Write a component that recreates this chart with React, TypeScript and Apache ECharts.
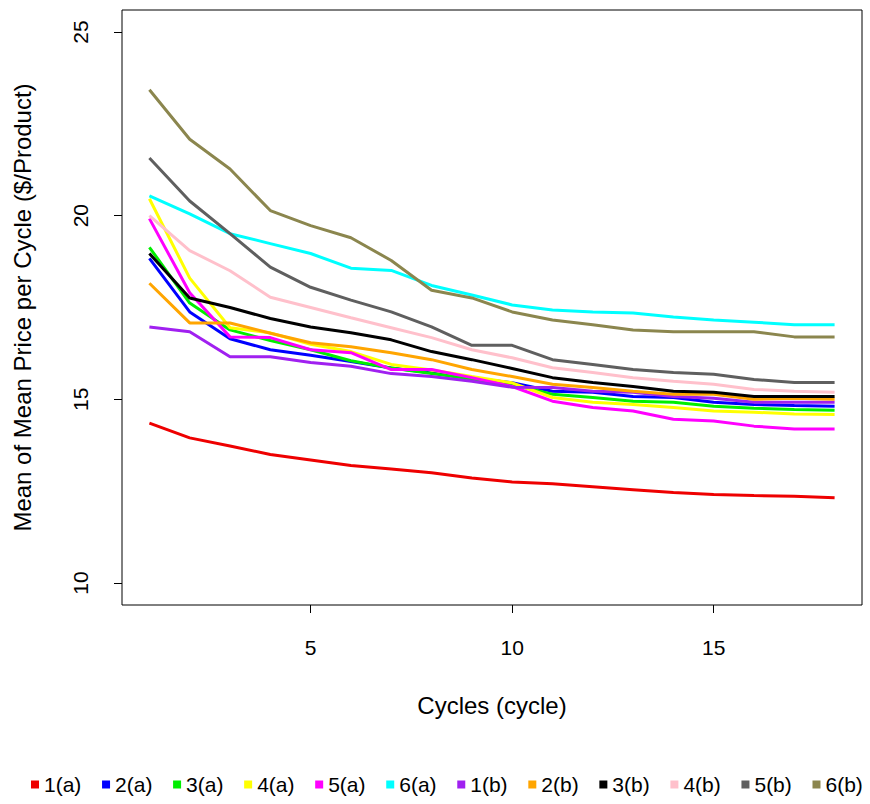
import React, { useEffect, useRef } from "react";
import * as echarts from "echarts";

const cycles = [1, 2, 3, 4, 5, 6, 7, 8, 9, 10, 11, 12, 13, 14, 15, 16, 17, 18];

const s1a = [14.35, 13.95, 13.73, 13.5, 13.35, 13.2, 13.1, 13.0, 12.86, 12.75, 12.7, 12.62, 12.54, 12.46, 12.41, 12.38, 12.36, 12.32];
const s2a = [18.84, 17.38, 16.65, 16.35, 16.2, 16.03, 15.85, 15.72, 15.58, 15.45, 15.22, 15.19, 15.08, 15.05, 14.92, 14.86, 14.83, 14.81];
const s3a = [19.14, 17.62, 16.89, 16.6, 16.35, 16.05, 15.85, 15.7, 15.55, 15.4, 15.14, 15.05, 14.95, 14.92, 14.81, 14.76, 14.72, 14.7];
const s4a = [20.46, 18.3, 16.95, 16.81, 16.5, 16.3, 15.95, 15.8, 15.62, 15.45, 15.05, 14.92, 14.86, 14.78, 14.68, 14.65, 14.6, 14.59];
const s5a = [19.92, 17.9, 16.7, 16.68, 16.35, 16.27, 15.81, 15.81, 15.59, 15.35, 14.95, 14.78, 14.68, 14.46, 14.41, 14.27, 14.19, 14.19];
const s6a = [20.54, 20.05, 19.51, 19.24, 18.97, 18.57, 18.51, 18.1, 17.84, 17.57, 17.43, 17.38, 17.35, 17.24, 17.16, 17.1, 17.03, 17.03];
const s1b = [16.97, 16.84, 16.16, 16.16, 16.0, 15.9, 15.7, 15.62, 15.49, 15.33, 15.32, 15.22, 15.19, 15.08, 15.03, 14.92, 14.92, 14.92];
const s2b = [18.16, 17.08, 17.08, 16.8, 16.54, 16.43, 16.27, 16.08, 15.81, 15.62, 15.41, 15.32, 15.22, 15.14, 15.14, 15.0, 15.03, 15.0];
const s3b = [18.97, 17.76, 17.5, 17.2, 16.97, 16.81, 16.62, 16.3, 16.08, 15.84, 15.59, 15.46, 15.35, 15.22, 15.19, 15.08, 15.08, 15.08];
const s4b = [20.0, 19.05, 18.5, 17.78, 17.5, 17.22, 16.95, 16.68, 16.35, 16.13, 15.86, 15.73, 15.59, 15.49, 15.41, 15.27, 15.22, 15.19];
const s5b = [21.57, 20.4, 19.51, 18.6, 18.05, 17.7, 17.38, 16.97, 16.47, 16.47, 16.08, 15.95, 15.81, 15.73, 15.68, 15.54, 15.46, 15.46];
const s6b = [23.43, 22.08, 21.27, 20.14, 19.73, 19.4, 18.78, 17.97, 17.76, 17.38, 17.16, 17.03, 16.89, 16.84, 16.84, 16.84, 16.7, 16.7];

const seriesNames = ["1(a)", "2(a)", "3(a)", "4(a)", "5(a)", "6(a)", "1(b)", "2(b)", "3(b)", "4(b)", "5(b)", "6(b)"];
const seriesValues = [s1a, s2a, s3a, s4a, s5a, s6a, s1b, s2b, s3b, s4b, s5b, s6b];
const seriesColors = ["#EE0000", "#0000FF", "#00EE00", "#FFFF00", "#FF00FF", "#00FFFF", "#A020F0", "#FFA500", "#000000", "#FFC0CB", "#5F5F5F", "#8B864E"];

const xTicks = [5, 10, 15];
const yTicks = [10, 15, 20, 25];

const FONT = "'Liberation Sans', Arial, sans-serif";
const FS = 21;
const FS_TITLE = 24;

export default function App() {
  const ref = useRef<HTMLDivElement>(null);
  useEffect(() => {
    if (!ref.current) return;
    const chart = echarts.init(ref.current, null, { renderer: "svg" });
    chart.setOption({
      animation: false,
      backgroundColor: "#fff",
      textStyle: { fontFamily: FONT },
      grid: {
        left: 122,
        top: 10,
        width: 740,
        height: 595,
        show: true,
        borderColor: "#000",
        borderWidth: 1,
        backgroundColor: "transparent",
      },
      legend: {
        data: seriesNames,
        left: 31,
        top: 774,
        padding: 0,
        icon: "rect",
        itemWidth: 8,
        itemHeight: 8,
        itemGap: 20.7,
        textStyle: { fontSize: FS, color: "#000", fontFamily: FONT, padding: [7, 0, 0, 0] },
      },
      xAxis: {
        type: "value",
        min: 0.32,
        max: 18.68,
        name: "Cycles (cycle)",
        nameLocation: "middle",
        nameGap: 88,
        nameTextStyle: { fontSize: FS_TITLE, color: "#000", fontFamily: FONT },
        axisLine: { show: false },
        splitLine: { show: false },
        axisTick: { show: true, length: 8, customValues: xTicks, lineStyle: { color: "#000" } },
        axisLabel: { customValues: xTicks, fontSize: FS, color: "#000", margin: 32, fontFamily: FONT },
      },
      yAxis: {
        type: "value",
        min: 9.4,
        max: 25.6,
        name: "Mean of Mean Price per Cycle ($/Product)",
        nameLocation: "middle",
        nameGap: 88,
        nameTextStyle: { fontSize: FS_TITLE, color: "#000", fontFamily: FONT },
        axisLine: { show: false },
        splitLine: { show: false },
        axisTick: { show: true, length: 8, customValues: yTicks, lineStyle: { color: "#000" } },
        axisLabel: { customValues: yTicks, fontSize: FS, color: "#000", margin: 31, rotate: 90, fontFamily: FONT },
      },
      series: seriesNames.map((name, i) => ({
        name,
        type: "line",
        showSymbol: false,
        symbol: "none",
        lineStyle: { width: 3, color: seriesColors[i] },
        itemStyle: { color: seriesColors[i] },
        data: cycles.map((c, j) => [c, seriesValues[i][j]]),
      })),
    });
    return () => chart.dispose();
  }, []);
  return <div ref={ref} style={{ position: "fixed", left: 0, top: 0, width: 870, height: 804 }} />;
}
